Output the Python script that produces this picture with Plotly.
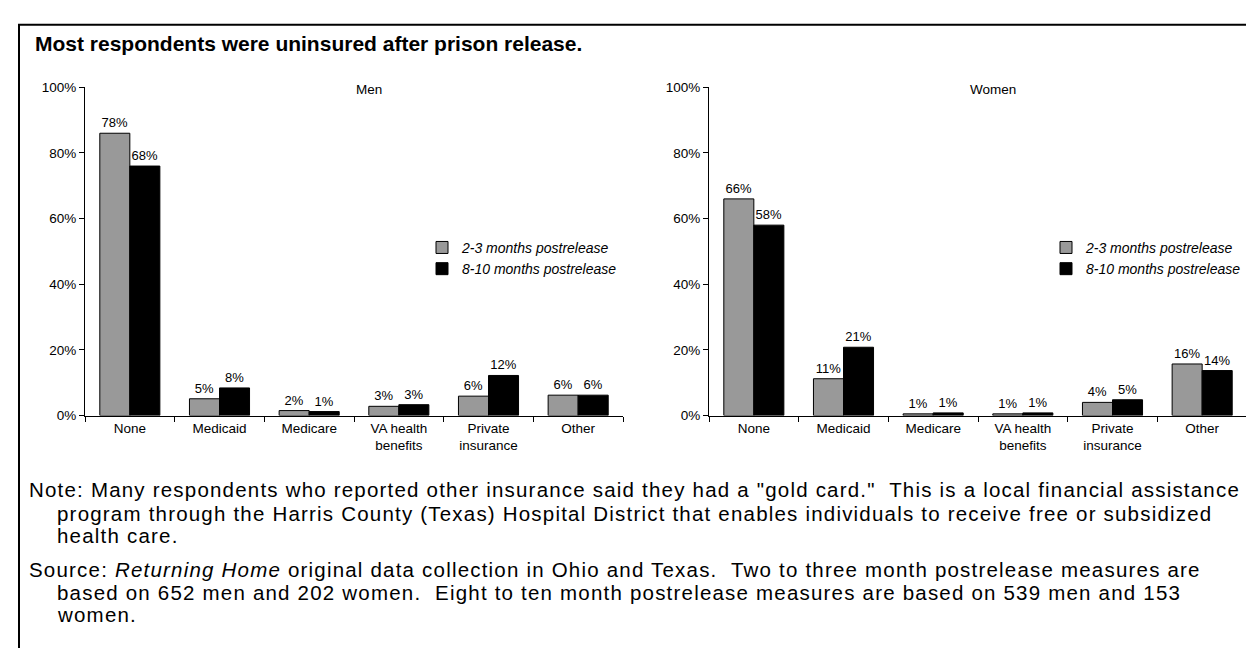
import json
import plotly.graph_objects as go

W, H = 1254, 648

categories = ["None", "Medicaid", "Medicare", "VA health<br>benefits", "Private<br>insurance", "Other"]
series_names = ["2-3 months postrelease", "8-10 months postrelease"]

men_early = [86, 5.1, 1.5, 2.8, 5.9, 6.2]
men_late = [76, 8.4, 1.2, 3.3, 12.2, 6.2]
men_early_lbl = ["78%", "5%", "2%", "3%", "6%", "6%"]
men_late_lbl = ["68%", "8%", "1%", "3%", "12%", "6%"]

women_early = [66, 11.2, 0.5, 0.5, 4.0, 15.7]
women_late = [58, 20.8, 0.8, 0.8, 4.8, 13.7]
women_early_lbl = ["66%", "11%", "1%", "1%", "4%", "16%"]
women_late_lbl = ["58%", "21%", "1%", "1%", "5%", "14%"]

y_ticks = [0, 20, 40, 60, 80, 100]
y_tick_text = [f"{v}%" for v in y_ticks]

FONT = "Liberation Sans, Arial, sans-serif"
colors = ["#999999", "#000000"]

fig = go.Figure()

def px_x(x):
    return x / W

def px_y(y):
    return 1 - y / H

panels = [
    ("x", "y", "legend", [men_early, men_late], [men_early_lbl, men_late_lbl]),
    ("x2", "y2", "legend2", [women_early, women_late], [women_early_lbl, women_late_lbl]),
]
for xa, ya, lg, vals, lbls in panels:
    for i in range(2):
        fig.add_trace(go.Bar(
            x=categories, y=vals[i], name=series_names[i],
            text=lbls[i], textposition="outside", cliponaxis=False,
            textfont=dict(size=13, color="black", family=FONT),
            marker=dict(color=colors[i], line=dict(color="#000000", width=1)),
            xaxis=xa, yaxis=ya, legend=lg,
        ))

axis_common_x = dict(
    type="category", showline=True, linecolor="black", linewidth=1,
    ticks="outside", ticklen=5, tickcolor="black", tickson="boundaries",
    showgrid=False, tickfont=dict(size=13.5, family=FONT, color="black"),
)
axis_common_y = dict(
    range=[0, 100], tickmode="array", tickvals=y_ticks, ticktext=y_tick_text, showline=True,
    linecolor="black", linewidth=1, ticks="outside", ticklen=5, tickcolor="black",
    showgrid=False, zeroline=False, tickfont=dict(size=13.5, family=FONT, color="black"),
)
ydom = [px_y(410), px_y(74)]
fig.update_layout(
    xaxis=dict(domain=[px_x(77), px_x(615)], anchor="y", **axis_common_x),
    yaxis=dict(domain=ydom, anchor="x", **axis_common_y),
    xaxis2=dict(domain=[px_x(701), px_x(1239)], anchor="y2", **axis_common_x),
    yaxis2=dict(domain=ydom, anchor="x2", **axis_common_y),
)

leg_common = dict(
    xanchor="right", yanchor="top", bgcolor="rgba(0,0,0,0)",
    font=dict(size=14, family=FONT, color="black", style="italic"),
    tracegroupgap=0, itemwidth=30,
)
fig.update_layout(
    legend=dict(x=px_x(614), y=px_y(222), **leg_common),
    legend2=dict(x=px_x(1238), y=px_y(222), **leg_common),
)

fig.update_layout(
    width=W, height=H, autosize=False,
    margin=dict(l=0, r=0, t=0, b=0),
    paper_bgcolor="white", plot_bgcolor="white",
    barmode="group", bargap=0.33, bargroupgap=0,
    font=dict(family=FONT, color="black"),
    showlegend=True,
)

# frame
fig.add_shape(type="rect", xref="paper", yref="paper",
              x0=px_x(11), x1=px_x(1250), y0=-0.05, y1=px_y(10),
              line=dict(color="black", width=2), fillcolor="rgba(0,0,0,0)", layer="below")

ann = []
spacing = []
ann.append(dict(text="<b>Most respondents were uninsured after prison release.</b>",
                x=px_x(25), y=px_y(29), xanchor="left", yanchor="middle", align="left",
                font=dict(size=21, family=FONT, color="black")))
spacing.append(0)
ann.append(dict(text="Men", x=px_x(361), y=px_y(76), xanchor="center", yanchor="middle",
                font=dict(size=13.5, family=FONT, color="black")))
spacing.append(0)
ann.append(dict(text="Women", x=px_x(985), y=px_y(76), xanchor="center", yanchor="middle",
                font=dict(size=13.5, family=FONT, color="black")))
spacing.append(0)

note_lines = [
    (19, 486, 'Note: Many respondents who reported other insurance said they had a "gold card."  This is a local financial assistance'),
    (47, 510, 'program through the Harris County (Texas) Hospital District that enables individuals to receive free or subsidized'),
    (47, 533, 'health care.'),
    (19, 568, 'Source: <i>Returning Home</i> original data collection in Ohio and Texas.  Two to three month postrelease measures are'),
    (47, 591, 'based on 652 men and 202 women.  Eight to ten month postrelease measures are based on 539 men and 153'),
    (47, 614, 'women.'),
]
for x, y, t in note_lines:
    ann.append(dict(text=t.replace("  ", "&nbsp; "), x=px_x(x), y=px_y(y), xanchor="left", yanchor="middle",
                    align="left", font=dict(size=20.5, family=FONT, color="black")))
    spacing.append(1.2)

for a in ann:
    a.update(xref="paper", yref="paper", showarrow=False)
fig.update_layout(annotations=ann)

post = """
var gd = document.getElementById('{plot_id}');
var sp = %s;
gd.querySelectorAll('g.annotation').forEach(function(g){
  var i = parseInt(g.getAttribute('data-index'));
  if (sp[i]) {
    g.querySelectorAll('text').forEach(function(t){ t.style.letterSpacing = sp[i] + 'px'; });
  }
});
""" % json.dumps(spacing)

fig.write_html("out.html", post_script=post)
